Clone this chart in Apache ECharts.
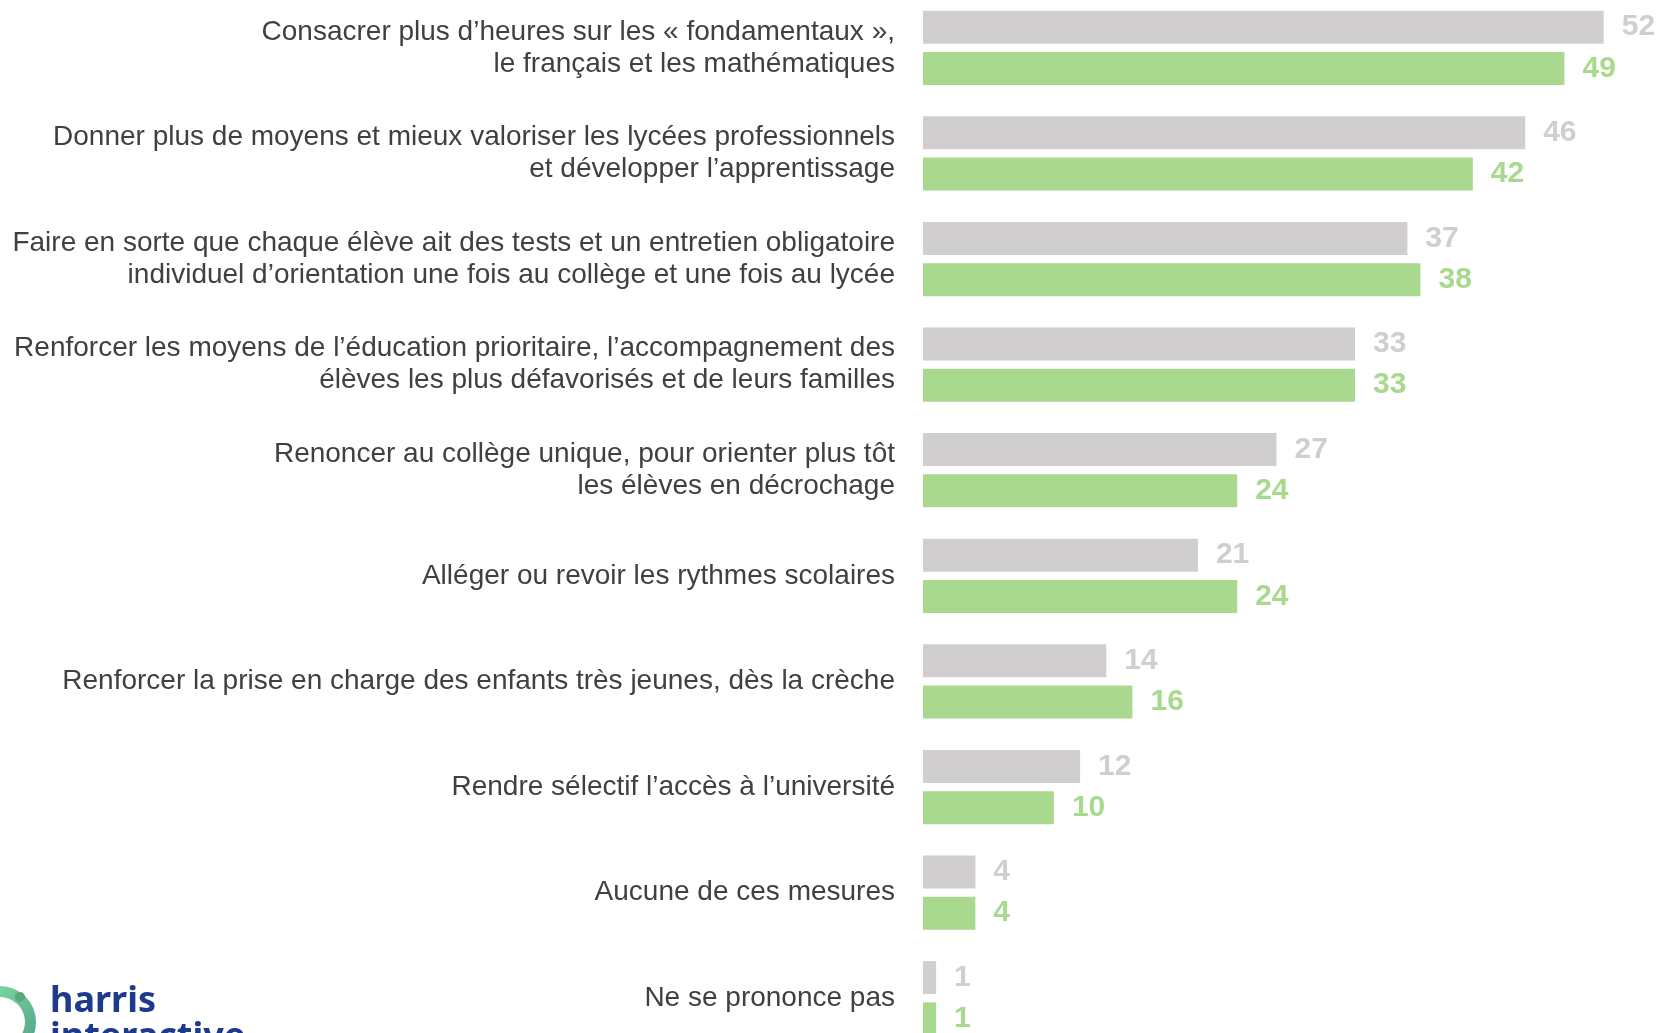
<!DOCTYPE html>
<html>
<head>
<meta charset="utf-8">
<script src="https://cdn.jsdelivr.net/npm/echarts@6/dist/echarts.min.js"></script>
<style>
  html, body { margin: 0; padding: 0; background: #fff; }
  #chart { width: 1665px; height: 1033px; }
</style>
</head>
<body>
<div id="chart"></div>
<script>
(function() {
  'use strict';

  var categories = [
    'Consacrer plus d\u2019heures sur les \u00ab fondamentaux \u00bb,\nle fran\u00e7ais et les math\u00e9matiques',
    'Donner plus de moyens et mieux valoriser les lyc\u00e9es professionnels\net d\u00e9velopper l\u2019apprentissage',
    'Faire en sorte que chaque \u00e9l\u00e8ve ait des tests et un entretien obligatoire\nindividuel d\u2019orientation une fois au coll\u00e8ge et une fois au lyc\u00e9e',
    'Renforcer les moyens de l\u2019\u00e9ducation prioritaire, l\u2019accompagnement des\n\u00e9l\u00e8ves les plus d\u00e9favoris\u00e9s et de leurs familles',
    'Renoncer au coll\u00e8ge unique, pour orienter plus t\u00f4t\nles \u00e9l\u00e8ves en d\u00e9crochage',
    'All\u00e9ger ou revoir les rythmes scolaires',
    'Renforcer la prise en charge des enfants tr\u00e8s jeunes, d\u00e8s la cr\u00e8che',
    'Rendre s\u00e9lectif l\u2019acc\u00e8s \u00e0 l\u2019universit\u00e9',
    'Aucune de ces mesures',
    'Ne se prononce pas'
  ];
  var valuesGris = [52, 46, 37, 33, 27, 21, 14, 12, 4, 1];
  var valuesVert = [49, 42, 38, 33, 24, 24, 16, 10, 4, 1];

  var GRIS = '#d0cece';
  var VERT = '#a9d98f';

  function barSerie(name, data, color) {
    return {
      name: name,
      type: 'bar',
      data: data,
      barWidth: 33,
      barGap: '25%',
      itemStyle: { color: color },
      label: {
        show: true,
        position: 'right',
        distance: 18,
        color: color,
        fontFamily: 'Liberation Sans, Arial, sans-serif',
        fontWeight: 'bold',
        fontSize: 30
      }
    };
  }

  var myChart = echarts.init(document.getElementById('chart'));
  myChart.setOption({
    animation: false,
    backgroundColor: '#ffffff',
    grid: {
      left: 923, width: 720, top: -5, height: 1056,
      outerBoundsMode: 'none',
      containLabel: false
    },
    xAxis: {
      type: 'value',
      min: 0,
      max: 55,
      show: false
    },
    yAxis: {
      type: 'category',
      inverse: true,
      data: categories,
      axisLine: { show: false },
      axisTick: { show: false },
      axisLabel: {
        margin: 28,
        align: 'right',
        color: '#404040',
        fontFamily: 'Liberation Sans, Arial, sans-serif',
        fontSize: 28,
        lineHeight: 32
      }
    },
    series: [
      barSerie('gris', valuesGris, GRIS),
      barSerie('vert', valuesVert, VERT)
    ],
    graphic: [
      {
        type: 'ring',
        shape: { cx: 0, cy: 1022, r: 36, r0: 25 },
        style: {
          fill: new echarts.graphic.LinearGradient(0, 0, 1, 1, [
            { offset: 0, color: '#86e6a6' },
            { offset: 1, color: '#4f9e88' }
          ])
        }
      },
      {
        type: 'circle',
        shape: { cx: 20, cy: 997, r: 5 },
        style: { fill: '#5aa878' }
      },
      {
        type: 'text',
        left: 50,
        top: 984,
        style: {
          text: 'harris\ninteractive',
          fill: '#1d3a8f',
          fontFamily: 'Noto Sans, sans-serif',
          fontWeight: 'bold',
          fontSize: 36,
          lineHeight: 36
        }
      }
    ]
  });
})();
</script>
</body>
</html>
